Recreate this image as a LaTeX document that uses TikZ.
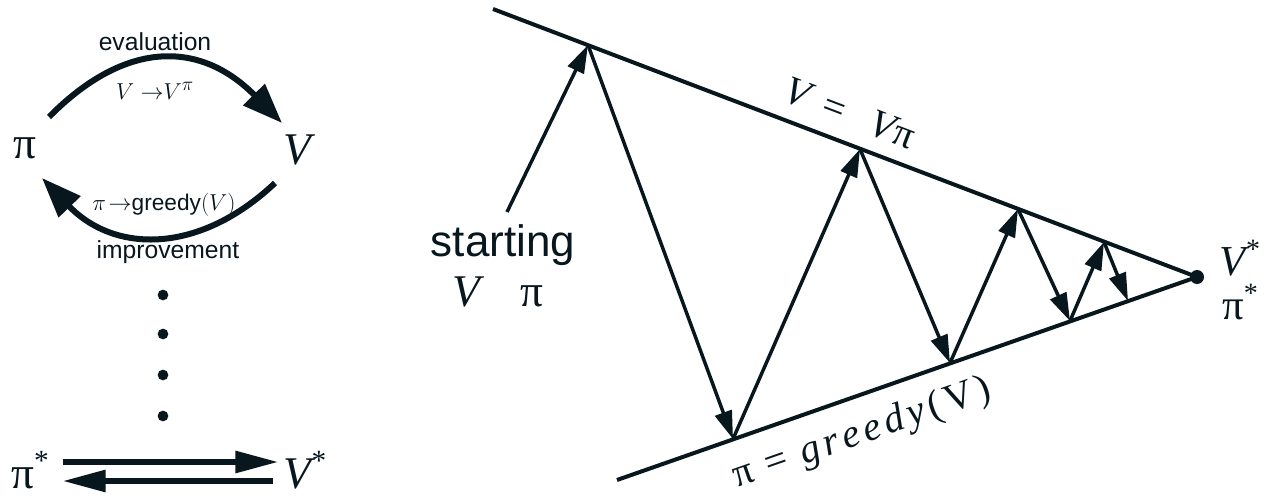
\documentclass[tikz,border=0pt]{standalone}
\usepackage{fontspec}
\newfontfamily\hv{Liberation Sans}
\newfontfamily\tm{Liberation Serif}
\usetikzlibrary{arrows.meta}
\definecolor{ink}{RGB}{8,22,30}
\newcommand\iV{{\itshape V}}
\newcommand\sk{\kern0.11em}
\begin{document}
\begin{tikzpicture}[x=0.75pt,y=-0.75pt,
  arc/.style={draw=ink,line width=4.5pt,-{Triangle[length=30pt,width=22pt]}},
  flat/.style={draw=ink,line width=3.8pt,-{Triangle[length=32pt,width=16pt]}},
  base/.style={draw=ink,line width=3pt},
  zig/.style={draw=ink,line width=2.6pt,-{Triangle[length=21pt,width=13pt]}},
  dot/.style={circle,fill=ink,inner sep=0pt,minimum size=8pt},
  sans/.style={text=ink,inner sep=0pt,font=\hv\fontsize{18.5}{20}\selectfont},
  mth/.style={text=ink,inner sep=0pt,font=\fontsize{19}{21}\selectfont},
  bigm/.style={text=ink,inner sep=0pt,font=\tm\fontsize{34}{36}\selectfont},
  lbl/.style={text=ink,inner sep=0pt,font=\tm\fontsize{30}{32}\selectfont}]
\useasboundingbox (0,0) rectangle (1278,499);
% ---------- left diagram ----------
\node[bigm] (pi) at (25,148) {π};
\node[bigm] (V) at (297,150) {\iV};
\node[sans] (eval) at (155,42) {evaluation};
\node[mth] (vmap) at (155,91) {$V\;{\to} V^{\pi}$};
\node[sans,font=\fontsize{17}{19}\selectfont] (gmap) at (164,205) {$\pi\!\rightarrow$\hv greedy$(V)$};
\node[sans] (impr) at (168,252) {improvement};
\coordinate (a1) at (49,117);
\coordinate (a2) at (282,123);
\coordinate (b1) at (275,183);
\coordinate (b2) at (42,178);
\draw[arc] (a1) .. controls (125,40) and (200,40) .. (a2);
\draw[arc] (b1) .. controls (200,254) and (115,254) .. (b2);
\node[dot] (d1) at (163,295) {};
\node[dot] (d2) at (163,334) {};
\node[dot] (d3) at (163,375) {};
\node[dot] (d4) at (163,416) {};
\node[bigm] (pis) at (30,470) {π\raisebox{0.4em}{\fontsize{22}{24}\selectfont *}};
\node[bigm] (Vs) at (305,470) {\iV\raisebox{0.4em}{\fontsize{22}{24}\selectfont *}};
\coordinate (f1) at (63,462);
\coordinate (f2) at (278,462);
\coordinate (g1) at (273,481);
\coordinate (g2) at (63,481);
\draw[flat] (f1) -- (f2);
\draw[flat] (g1) -- (g2);
% ---------- right diagram ----------
\coordinate (U0) at (493,9);
\coordinate (L0) at (617,480);
\node[dot,minimum size=10.5pt] (S) at (1197,277) {};
\draw[base] (U0) -- (S.center);
\draw[base] (L0) -- (S.center);
\coordinate (P0) at (588,45);
\coordinate (P1) at (860,149);
\coordinate (P2) at (1018,209);
\coordinate (P3) at (1104,242);
\coordinate (Q0) at (733,439);
\coordinate (Q1) at (950,363);
\coordinate (Q2) at (1070,321);
\coordinate (Q3) at (1128,301);
\coordinate (T) at (507,212);
\draw[zig] (T) -- (P0);
\draw[zig] (P0) -- (Q0);
\draw[zig] (Q0) -- (P1);
\draw[zig] (P1) -- (Q1);
\draw[zig] (Q1) -- (P2);
\draw[zig] (P2) -- (Q2);
\draw[zig] (Q2) -- (P3);
\draw[zig] (P3) -- (Q3);
\node[sans,font=\hv\fontsize{33}{36}\selectfont] (start) at (503,245) {starting};
\node[bigm] (vpi) at (498,292) {\iV\hspace{0.9em}π};
\node[lbl,rotate=-20.8] (up) at (850,113) {\iV\hspace{0.4em}=\hspace{0.7em}\iV\kern0.02em π};
\node[lbl,rotate=19.3] (low) at (862,434) {π\sk\ =\sk\ {\itshape g\sk r\sk e\sk e\sk d\sk y}\sk(\sk V\sk)};
\node[bigm,font=\tm\fontsize{32}{34}\selectfont] (Vst) at (1240,258) {\iV\raisebox{0.4em}{\fontsize{21}{23}\selectfont *}};
\node[bigm,font=\tm\fontsize{32}{34}\selectfont] (pst) at (1240,302) {π\raisebox{0.4em}{\fontsize{21}{23}\selectfont *}};
\end{tikzpicture}
\end{document}
